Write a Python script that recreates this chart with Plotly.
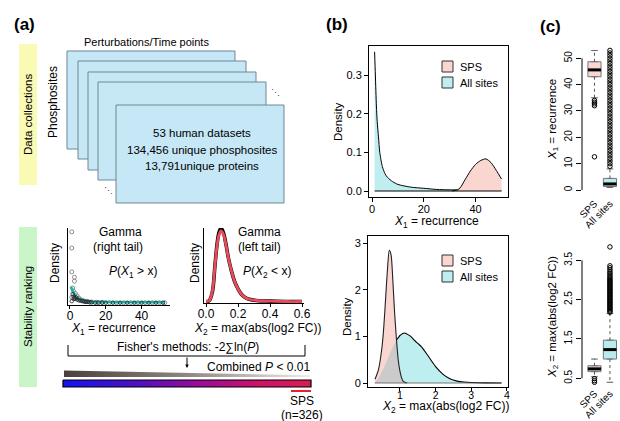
import numpy as np
import plotly.graph_objects as go

W, H = 620, 421
FONT = "Liberation Sans, Arial, Helvetica, sans-serif"

# ---------------- data ----------------
# (a) schematic summary
dataset_summary = ["53 human datasets", "134,456 unique phosphosites", "13,791unique proteins"]

# (a) mini plot 1: empirical density of X1 = recurrence and gamma fit
x1_open = [1, 1, 1, 2.5, 2.5, 1.5, 2, 3, 1, 2, 4, 5, 6, 7, 8, 9, 10, 12, 15, 18, 22, 26, 30, 34, 38, 42, 46, 50, 53]
d1_open = [0.95, 0.74, 0.43, 0.36, 0.31, 0.22, 0.18, 0.15, 0.10, 0.08, 0.12, 0.09, 0.07, 0.06, 0.05, 0.05,
           0.045, 0.04, 0.035, 0.035, 0.03, 0.03, 0.03, 0.03, 0.03, 0.03, 0.03, 0.03, 0.03]
x1_dark = [1, 1.5, 2, 2.5, 3, 3.5, 4, 5, 6, 7, 8, 9, 10, 11, 12, 14, 16, 18, 20, 24, 28, 32, 36, 40, 44, 48, 52]
d1_dark = [0.05, 0.14, 0.11, 0.09, 0.08, 0.10, 0.07, 0.06, 0.055, 0.05, 0.045, 0.04, 0.04, 0.035, 0.035, 0.03,
           0.03, 0.03, 0.03, 0.03, 0.03, 0.03, 0.03, 0.03, 0.03, 0.03, 0.03]
x1_fit = [0.5, 1, 2, 3, 4, 5, 6, 8, 10, 13, 16, 20, 30, 40, 53]
d1_fit = [0.24, 0.21, 0.16, 0.12, 0.095, 0.08, 0.068, 0.055, 0.048, 0.043, 0.04, 0.038, 0.036, 0.035, 0.035]
x1_ticks = [0, 20, 40]

# (a) mini plot 2: empirical density of X2 = max(abs(log2 FC)) and gamma fit
x2_grid = [0.0, 0.02, 0.04, 0.056, 0.07, 0.08, 0.094, 0.11, 0.125, 0.14, 0.16, 0.18, 0.2, 0.22, 0.24,
           0.27, 0.33, 0.4, 0.5, 0.6]
d2_emp = [0.02, 0.03, 0.15, 0.5, 0.8, 0.93, 1.0, 0.93, 0.78, 0.6, 0.42, 0.28, 0.19, 0.12, 0.08,
          0.05, 0.03, 0.025, 0.02, 0.02]
d2_fit = [0.02, 0.03, 0.16, 0.5, 0.78, 0.9, 0.96, 0.91, 0.77, 0.6, 0.42, 0.28, 0.19, 0.12, 0.08,
          0.05, 0.03, 0.025, 0.02, 0.02]
x2_ticks = [0.0, 0.2, 0.4, 0.6]

# (b) top: density of recurrence
rec_grid_all = [1, 1.3, 1.7, 2, 2.5, 3, 4, 5, 6, 8, 10, 15, 20, 25, 30, 35, 40, 45, 50]
dens_rec_all = [0.36, 0.30, 0.22, 0.18, 0.14, 0.10, 0.063, 0.045, 0.035, 0.024, 0.017, 0.010, 0.007,
                0.004, 0.003, 0.003, 0.003, 0.003, 0.002]
rec_grid_sps = [31, 33, 34, 36, 38, 40, 42, 44, 46, 48, 50]
dens_rec_sps = [0.0, 0.003, 0.008, 0.03, 0.052, 0.069, 0.079, 0.083, 0.073, 0.053, 0.031]
rec_xticks = [0, 20, 40]
rec_yticks = [0.0, 0.1, 0.2, 0.3]

# (b) bottom: density of max(abs(log2 FC))
fc_grid = [0.3, 0.4, 0.5, 0.55, 0.6, 0.65, 0.7, 0.75, 0.8, 0.85, 0.9, 0.95, 1.0, 1.05, 1.1, 1.15, 1.2,
           1.3, 1.4, 1.5, 1.6, 1.8, 2.0, 2.2, 2.4, 2.6, 2.8, 3.0, 3.4, 3.85]
dens_fc_all = [0.0, 0.1, 0.25, 0.33, 0.42, 0.51, 0.6, 0.69, 0.78, 0.85, 0.92, 0.97, 1.02, 1.05, 1.07,
               1.07, 1.05, 1.0, 0.92, 0.85, 0.78, 0.57, 0.35, 0.19, 0.09, 0.04, 0.02, 0.01, 0.003, 0.0]
fc_grid_sps = [0.3, 0.4, 0.5, 0.55, 0.6, 0.65, 0.7, 0.75, 0.8, 0.85, 0.9, 0.95, 1.0, 1.05, 1.1, 1.15, 1.2]
dens_fc_sps = [0.08, 0.3, 0.8, 1.25, 1.85, 2.45, 2.85, 2.75, 2.2, 1.5, 0.95, 0.5, 0.25, 0.1, 0.03, 0.01, 0.0]
fc_xticks = [1, 2, 3, 4]
fc_yticks = [0, 1, 2, 3]

# (c) boxplots
box_labels = ["SPS", "All sites"]
box_pos = [1, 2]
rec_q1 = [43.0, 1.3]
rec_med = [45.6, 2.3]
rec_q3 = [48.7, 4.4]
rec_lo = [35.0, 1.0]
rec_hi = [53.0, 8.0]
rec_out_sps = [34, 33.3, 32.7, 32, 12.6]
rec_out_all = [9, 10, 11, 12, 13, 14, 15, 16, 17, 18, 19, 20, 21, 22, 23, 24, 25, 26, 27, 28, 29, 30, 31,
               32, 33, 34, 35, 36, 37, 38, 39, 40, 41, 42, 43, 44, 45, 46, 47, 48, 49, 50, 51, 52, 53]
rec_box_ticks = [0, 10, 20, 30, 40, 50]

fc_q1 = [0.67, 0.99]
fc_med = [0.74, 1.23]
fc_q3 = [0.82, 1.47]
fc_lo = [0.54, 0.40]
fc_hi = [0.99, 2.15]
fc_out_sps = [0.49, 0.44, 0.40]
fc_out_all = [2.18, 2.21, 2.24, 2.27, 2.30, 2.33, 2.36, 2.39, 2.42, 2.45, 2.48, 2.51, 2.54, 2.57, 2.60,
              2.63, 2.66, 2.69, 2.72, 2.75, 2.78, 2.81, 2.84, 2.87, 2.90, 2.93, 2.96, 2.99, 3.02, 3.05,
              3.09, 3.13, 3.17, 3.21, 3.26, 3.31, 3.36, 3.84]
fc_box_ticks = [0.5, 1.5, 2.5, 3.5]

# colours
C_SPS = "#fad6d1"
C_ALL = "#bfeef0"
C_OVL = "#cbcbcb"
BOX_W = 0.85

# ---------------- helpers ----------------
def dx(l, r):
    return [l / W, r / W]


def dy(t, b):
    return [1 - b / H, 1 - t / H]


def txt(x, y, s, size=12, angle=0, color="black", xanchor="center"):
    return dict(x=x, y=y, xref="x7", yref="y7", text=s, showarrow=False, textangle=angle,
                font=dict(size=size, color=color, family=FONT), xanchor=xanchor, yanchor="middle")


def rect(x0, y0, x1, y1, fill, line="rgba(0,0,0,0)", width=1):
    return dict(type="rect", xref="x7", yref="y7", x0=x0, y0=y0, x1=x1, y1=y1,
                fillcolor=fill, line=dict(color=line, width=width), layer="above")


def seg(x0, y0, x1, y1, color="black", width=1):
    return dict(type="line", xref="x7", yref="y7", x0=x0, y0=y0, x1=x1, y1=y1,
                line=dict(color=color, width=width), layer="above")


fig = go.Figure()
NOHOVER = dict(hoverinfo="skip", showlegend=False)

# ---- (a) mini plot 1 ----
fig.add_trace(go.Scatter(x=x1_open, y=d1_open, mode="markers", xaxis="x", yaxis="y", cliponaxis=False,
                         marker=dict(symbol="circle-open", size=4, color="#8c8c8c", line=dict(width=1)),
                         **NOHOVER))
fig.add_trace(go.Scatter(x=x1_fit, y=d1_fit, mode="lines", xaxis="x", yaxis="y",
                         line=dict(color="#1fb3ad", width=2.6, shape="spline"), **NOHOVER))
fig.add_trace(go.Scatter(x=x1_dark, y=d1_dark, mode="markers", xaxis="x", yaxis="y", cliponaxis=False,
                         marker=dict(symbol="circle-open", size=3.5, color="#222", line=dict(width=0.8)),
                         **NOHOVER))

# ---- (a) mini plot 2 ----
fig.add_trace(go.Scatter(x=x2_grid, y=d2_emp, mode="lines", xaxis="x2", yaxis="y2", cliponaxis=False,
                         line=dict(color="black", width=3.6, shape="spline"), **NOHOVER))
fig.add_trace(go.Scatter(x=x2_grid, y=d2_fit, mode="lines", xaxis="x2", yaxis="y2",
                         line=dict(color="#e84c5a", width=2.8, shape="spline"), **NOHOVER))

# ---- (b) top ----
fig.add_trace(go.Scatter(x=rec_grid_all, y=dens_rec_all, mode="lines", fill="tozeroy", fillcolor=C_ALL,
                         xaxis="x3", yaxis="y3", line=dict(color="black", width=1, shape="spline", smoothing=0.7),
                         **NOHOVER))
fig.add_trace(go.Scatter(x=rec_grid_sps, y=dens_rec_sps, mode="lines", fill="tozeroy", fillcolor=C_SPS,
                         xaxis="x3", yaxis="y3", line=dict(color="black", width=1, shape="spline", smoothing=0.7),
                         **NOHOVER))
fig.add_trace(go.Scatter(x=[rec_grid_all[0], rec_grid_sps[-1]], y=[0, 0], mode="lines",
                         xaxis="x3", yaxis="y3", line=dict(color="black", width=1), **NOHOVER))

# ---- (b) bottom ----
sps_on_grid = np.interp(fc_grid, fc_grid_sps, dens_fc_sps, right=0.0)
overlap = np.minimum(sps_on_grid, np.array(dens_fc_all))
fig.add_trace(go.Scatter(x=fc_grid, y=dens_fc_all, mode="lines", fill="tozeroy", fillcolor=C_ALL,
                         xaxis="x4", yaxis="y4", line=dict(color="black", width=1.1, shape="spline", smoothing=0.7),
                         **NOHOVER))
fig.add_trace(go.Scatter(x=fc_grid_sps, y=dens_fc_sps, mode="lines", fill="tozeroy", fillcolor=C_SPS,
                         xaxis="x4", yaxis="y4", line=dict(color="rgba(0,0,0,0)", width=0, shape="spline", smoothing=0.7),
                         **NOHOVER))
fig.add_trace(go.Scatter(x=fc_grid, y=overlap, mode="lines", fill="tozeroy", fillcolor=C_OVL,
                         xaxis="x4", yaxis="y4", line=dict(color="rgba(0,0,0,0)", width=0, shape="spline", smoothing=0.7),
                         **NOHOVER))
fig.add_trace(go.Scatter(x=fc_grid_sps, y=dens_fc_sps, mode="lines",
                         xaxis="x4", yaxis="y4", line=dict(color="#222", width=1.1, shape="spline", smoothing=0.7),
                         **NOHOVER))
fig.add_trace(go.Scatter(x=[fc_grid[0], fc_grid[-1]], y=[0, 0], mode="lines",
                         xaxis="x4", yaxis="y4", line=dict(color="#555", width=0.8), **NOHOVER))

# ---- (c) boxplots ----
box_fill = [C_SPS, "#b9eaee"]
for ax, ay, q1, med, q3, lo, hi, outs in [
    ("x5", "y5", rec_q1, rec_med, rec_q3, rec_lo, rec_hi, [rec_out_sps, rec_out_all]),
    ("x6", "y6", fc_q1, fc_med, fc_q3, fc_lo, fc_hi, [fc_out_sps, fc_out_all]),
]:
    for i, pos in enumerate(box_pos):
        fig.add_trace(go.Scatter(x=[pos, pos], y=[q3[i], hi[i]], mode="lines", xaxis=ax, yaxis=ay, cliponaxis=False,
                                 line=dict(color="#555", width=1, dash="dot"), **NOHOVER))
        fig.add_trace(go.Scatter(x=[pos, pos], y=[q1[i], lo[i]], mode="lines", xaxis=ax, yaxis=ay, cliponaxis=False,
                                 line=dict(color="#555", width=1, dash="dot"), **NOHOVER))
        for v in (lo[i], hi[i]):
            fig.add_trace(go.Scatter(x=[pos - BOX_W / 4, pos + BOX_W / 4], y=[v, v], mode="lines",
                                     xaxis=ax, yaxis=ay, cliponaxis=False,
                                     line=dict(color="#555", width=1), **NOHOVER))
        fig.add_trace(go.Box(x=[pos], q1=[q1[i]], median=[med[i]], q3=[q3[i]], lowerfence=[q1[i]],
                             upperfence=[q3[i]], width=BOX_W, fillcolor=box_fill[i], boxpoints=False,
                             line=dict(color="#777", width=1), xaxis=ax, yaxis=ay, **NOHOVER))
        fig.add_trace(go.Scatter(x=[pos - BOX_W / 2, pos + BOX_W / 2], y=[med[i], med[i]], mode="lines",
                                 xaxis=ax, yaxis=ay, line=dict(color="black", width=3), **NOHOVER))
        fig.add_trace(go.Scatter(x=[pos] * len(outs[i]), y=outs[i], mode="markers", xaxis=ax, yaxis=ay,
                                 cliponaxis=False,
                                 marker=dict(symbol="circle-open", size=4.5, color="black", line=dict(width=1)),
                                 **NOHOVER))

# ---- gradient wedge and colour bar (schematic, pixel overlay axis) ----
fig.add_trace(go.Scatter(x=[64, 310, 310, 64, 64], y=[370.5, 375.3, 377, 377, 370.5], mode="lines",
                         fill="toself", xaxis="x7", yaxis="y7", line=dict(width=0, color="rgba(0,0,0,0)"),
                         fillgradient=dict(type="horizontal",
                                           colorscale=[[0, "#4a403c"], [0.5, "#8e8682"], [1, "#efebe7"]]),
                         **NOHOVER))
fig.add_trace(go.Scatter(x=[63, 311, 311, 63, 63], y=[380, 380, 387, 387, 380], mode="lines",
                         fill="toself", xaxis="x7", yaxis="y7", line=dict(width=1.2, color="black"),
                         fillgradient=dict(type="horizontal",
                                           colorscale=[[0, "#1414f0"], [0.3, "#5010c0"], [0.55, "#9a0c98"],
                                                       [0.8, "#cc1468"], [1, "#d81c50"]]),
                         **NOHOVER))

# ---------------- axes ----------------
base = dict(showgrid=False, zeroline=False, color="black", linecolor="black", tickcolor="black",
            automargin=False)


def axis(**kw):
    d = dict(base)
    d.update(kw)
    return d


lay = dict(
    width=W, height=H, margin=dict(l=0, r=0, t=0, b=0, pad=0, autoexpand=False),
    paper_bgcolor="white", plot_bgcolor="rgba(0,0,0,0)", showlegend=False,
    font=dict(family=FONT, color="black"),
    xaxis=axis(domain=dx(68, 170), range=[-1.1, 55.9], anchor="y", showline=True, ticks="outside", ticklen=3,
               tickvals=x1_ticks, tickfont=dict(size=12, family=FONT), ticklabelstandoff=-3),
    yaxis=axis(domain=dy(228, 305), range=[0, 1.0], anchor="x", showline=True, showticklabels=False, ticks=""),
    xaxis2=axis(domain=dx(204, 304), range=[-0.0125, 0.6125], anchor="y2", showline=True, ticks="outside",
                ticklen=3, tickvals=x2_ticks, tickformat=".1f", tickfont=dict(size=12, family=FONT),
                ticklabelstandoff=-3),
    yaxis2=axis(domain=dy(228, 303), range=[0, 1.0], anchor="x2", showline=True, showticklabels=False, ticks=""),
    xaxis3=axis(domain=dx(369, 508), range=[-1.16, 52.5], anchor="y3", showline=True, mirror=True,
                ticks="outside", ticklen=4, tickvals=rec_xticks, tickfont=dict(size=11, family=FONT),
                ticklabelstandoff=-2),
    yaxis3=axis(domain=dy(46, 197), range=[-0.0155, 0.375], anchor="x3", showline=True, mirror=True,
                ticks="outside", ticklen=4, tickvals=rec_yticks, tickformat=".1f",
                tickfont=dict(size=11, family=FONT)),
    xaxis4=axis(domain=dx(368, 508), range=[0.103, 4.03], anchor="y4", showline=True, mirror=True,
                ticks="outside", ticklen=3, tickvals=fc_xticks, tickfont=dict(size=10.5, family=FONT),
                ticklabelstandoff=-5),
    yaxis4=axis(domain=dy(236, 387), range=[-0.086, 3.157], anchor="x4", showline=True, mirror=True,
                ticks="outside", ticklen=4, tickvals=fc_yticks, tickfont=dict(size=11, family=FONT)),
    xaxis5=axis(domain=dx(582, 620), range=[0.194, 2.65], anchor="y5", showline=False, ticks="",
                tickvals=box_pos, ticktext=box_labels, tickangle=-45, tickfont=dict(size=10, family=FONT)),
    yaxis5=axis(domain=dy(50, 195), range=[-1.9, 53.15], anchor="x5", showline=False, ticks="outside",
                ticklen=5, tickvals=rec_box_ticks, tickangle=-90, tickfont=dict(size=10, family=FONT)),
    xaxis6=axis(domain=dx(582, 620), range=[0.194, 2.65], anchor="y6", showline=False, ticks="",
                tickvals=box_pos, ticktext=box_labels, tickangle=-45, tickfont=dict(size=10, family=FONT)),
    yaxis6=axis(domain=dy(243, 385), range=[0.33, 3.94], anchor="x6", showline=False, ticks="outside",
                ticklen=5, tickvals=fc_box_ticks, tickformat=".1f", tickangle=-90,
                tickfont=dict(size=10, family=FONT)),
    xaxis7=axis(domain=[0, 1], range=[0, W], anchor="y7", visible=False, fixedrange=True),
    yaxis7=axis(domain=[0, 1], range=[H, 0], anchor="x7", visible=False, fixedrange=True),
)
fig.update_layout(**lay)

# ---------------- shapes ----------------
shapes = []
shapes.append(rect(19, 44, 37, 185, "#fafab4"))
shapes.append(rect(19, 227, 37, 387, "#c9f5c9"))
stack_x0 = [67, 78, 88, 98, 116]
stack_y0 = [51, 61, 72, 82, 105]
for sx, sy in zip(stack_x0, stack_y0):
    shapes.append(rect(sx, sy, sx + 168, sy + 98, "#c6e7f6", line="#6f8796", width=1))
shapes.append(seg(68, 345, 68, 356))
shapes.append(seg(305, 345, 305, 356))
shapes.append(seg(68, 356, 305, 356))
shapes.append(seg(291, 391, 311, 391, color="#e8202a", width=2))
for top in (61, 255):
    shapes.append(rect(442, top, 453, top + 11, C_SPS, line="#333", width=1))
    shapes.append(rect(442, top + 16, 453, top + 27, C_ALL, line="#333", width=1))
shapes.append(dict(type="line", xref="x5 domain", yref="y5", x0=0, x1=0, y0=rec_box_ticks[0],
                   y1=rec_box_ticks[-1], line=dict(color="black", width=1)))
shapes.append(dict(type="line", xref="x6 domain", yref="y6", x0=0, x1=0, y0=fc_box_ticks[0],
                   y1=fc_box_ticks[-1], line=dict(color="black", width=1)))
fig.update_layout(shapes=shapes)

# ---------------- annotations ----------------
ann = []
ann.append(txt(24, 24, "<b>(a)</b>", size=17))
ann.append(txt(337, 24, "<b>(b)</b>", size=17))
ann.append(txt(550, 26, "<b>(c)</b>", size=17))
ann.append(txt(28, 115, "Data collections", size=11.5, angle=-90))
ann.append(txt(28, 307, "Stability ranking", size=11.5, angle=-90))
ann.append(txt(53, 102, "Phosphosites", size=12, angle=-90))
ann.append(txt(146, 42, "Perturbations/Time points", size=11))
for line_txt, yy in zip(dataset_summary, [133, 150, 166]):
    ann.append(txt(202, yy, line_txt, size=11.5))
ann.append(txt(275, 93, "⋱", size=9, color="#444"))
ann.append(txt(108, 191, "⋱", size=9, color="#444"))
ann.append(txt(120, 232, "Gamma", size=12))
ann.append(txt(118, 247, "(right tail)", size=12))
ann.append(txt(133, 272, "<i>P</i>(<i>X</i><sub>1</sub> &gt; x)", size=12))
ann.append(txt(259, 232, "Gamma", size=12))
ann.append(txt(259, 247, "(left tail)", size=12))
ann.append(txt(267, 272, "<i>P</i>(<i>X</i><sub>2</sub> &lt; x)", size=12))
ann.append(txt(55, 263, "Density", size=12, angle=-90))
ann.append(txt(195, 263, "Density", size=12, angle=-90))
ann.append(txt(113, 329, "<i>X</i><sub>1</sub> = recurrence", size=12))
ann.append(txt(257, 329, "<i>X</i><sub>2</sub> = max(abs(log2 FC))", size=12))
ann.append(txt(188, 347, "Fisher's methods: -2∑ln(<i>P</i>)", size=12))
ann.append(txt(312, 367, "Combined <i>P</i> &lt; 0.01", size=12, xanchor="right"))
ann.append(txt(302, 401, "SPS", size=12))
ann.append(txt(302, 415, "(n=326)", size=12))
ann.append(dict(x=187, y=368, ax=187, ay=356, xref="x7", yref="y7", axref="x7", ayref="y7", text="",
                showarrow=True, arrowhead=2, arrowsize=0.7, arrowwidth=1, arrowcolor="black"))
ann.append(txt(338, 122, "Density", size=11.5, angle=-90))
ann.append(txt(347, 317, "Density", size=11.5, angle=-90))
ann.append(txt(436, 222, "<i>X</i><sub>1</sub> = recurrence", size=12))
ann.append(txt(445, 407, "<i>X</i><sub>2</sub> = max(abs(log2 FC))", size=12))
for top in (61, 255):
    ann.append(txt(458, top + 5.5, "SPS", size=11, xanchor="left"))
    ann.append(txt(458, top + 21.5, "All sites", size=11, xanchor="left"))
ann.append(txt(553, 120, "<i>X</i><sub>1</sub> = recurrence", size=11.5, angle=-90))
ann.append(txt(553, 317, "<i>X</i><sub>2</sub> = max(abs(log2 FC))", size=11.5, angle=-90))
fig.update_layout(annotations=ann)

fig.write_html("out.html", config={"displayModeBar": False, "staticPlot": True},
               post_script="document.body.style.margin='0px';document.body.style.overflow='hidden';")
